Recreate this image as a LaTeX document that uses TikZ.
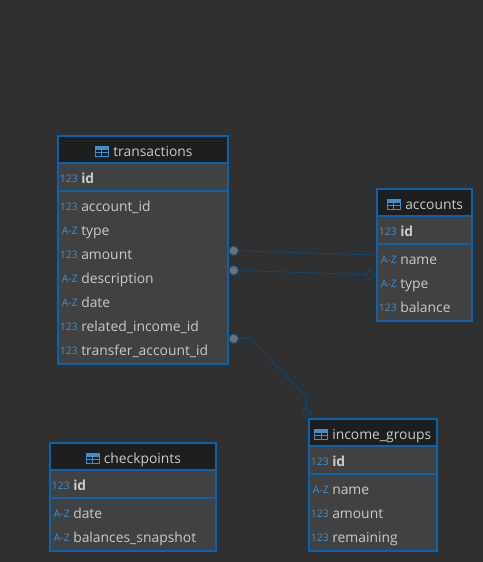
\documentclass[tikz,border=0pt]{standalone}
\usepackage{fontspec}
\setmainfont{Open Sans}
\usetikzlibrary{shapes.geometric}
\definecolor{bgc}{HTML}{303030}
\definecolor{panelc}{HTML}{414141}
\definecolor{headc}{HTML}{1E1E1E}
\definecolor{edgec}{HTML}{0A63AC}
\definecolor{txtc}{HTML}{CACACA}
\definecolor{iconc}{HTML}{3F8FCE}
\definecolor{linkc}{HTML}{0E4674}
\definecolor{dotc}{HTML}{6B7178}
\def\fsz{\fontsize{10.4pt}{12pt}\selectfont}
\tikzset{
  x=.75pt,y=-.75pt,
  tablebox/.style={draw=edgec,line width=1.6pt,fill=panelc,anchor=north west,inner sep=0pt,outer sep=0pt},
  headbox/.style={fill=headc,anchor=north west,inner sep=0pt,outer sep=0pt},
  rule/.style={draw=edgec,line width=.8pt},
  field/.style={anchor=base west,inner sep=0pt,text=txtc,font=\fsz},
  keyfield/.style={field,font=\fsz\bfseries},
  title/.style={anchor=base west,inner sep=0pt,text=txtc,font=\fsz},
  kind/.style={anchor=base east,inner sep=0pt,text=iconc,font=\fontsize{7.8pt}{8pt}\selectfont},
  dotend/.style={circle,draw=linkc,line width=.8pt,fill=dotc,minimum size=7.4pt,inner sep=0pt},
  diaend/.style={diamond,draw=linkc,line width=.7pt,fill=bgc,minimum size=7.8pt,inner sep=0pt},
  link/.style={draw=linkc,line width=.7pt},
  icon/.style={draw=iconc,line width=.7pt},
}
% table icon at (x,y): centre of the glyph
\newcommand{\tblicon}[2]{%
  \draw[icon] (#1-6.5,#2-4.5) rectangle (#1+6.5,#2+5);
  \fill[iconc] (#1-6.5,#2-4.5) rectangle (#1+6.5,#2-1.5);
  \draw[icon] (#1-6.5,#2+1.8) -- (#1+6.5,#2+1.8);
  \draw[icon] (#1,#2-1.5) -- (#1,#2+5);
}
% \tbl{name}{x}{y}{w}{h}: box, dark header and the rule below the key row
\newcommand{\tbl}[5]{%
  \node[tablebox,minimum width=#4*.75pt,minimum height=#5*.75pt] (#1) at (#2,#3) {};
  \fill[headc] (#2,#3) rectangle (#2+#4,#3+27);
  \draw[rule] (#2,#3+27) -- (#2+#4,#3+27);
  \draw[rule] (#2,#3+55) -- (#2+#4,#3+55);
  \draw[draw=edgec,line width=1.6pt] (#2,#3) rectangle (#2+#4,#3+#5);
}
% \row{node name}{x of text}{baseline y}{kind}{style}{text}
\newcommand{\row}[6]{%
  \node[kind] (#1k) at (#2-3,#3-.5) {#4};
  \node[#5] (#1) at (#2,#3+.5) {#6};
}
\begin{document}
\begin{tikzpicture}
\useasboundingbox (0,0) rectangle (483,562);
\fill[bgc] (0,0) rectangle (483,562);

% transactions
\tbl{tx}{58}{136}{170}{228}
\tblicon{101.5}{151}
\node[title] (txt) at (113,156) {transactions};
\row{txa}{81}{183}{123}{keyfield}{id}
\row{txb}{81}{211}{123}{field}{account\_id}
\row{txc}{81}{235}{A-Z}{field}{type}
\row{txd}{81}{259}{123}{field}{amount}
\row{txe}{81}{283}{A-Z}{field}{description}
\row{txf}{81}{307}{A-Z}{field}{date}
\row{txg}{81}{331}{123}{field}{related\_income\_id}
\row{txh}{81}{355}{123}{field}{transfer\_account\_id}

% accounts
\tbl{acc}{377}{189}{95}{132}
\tblicon{393.5}{204}
\node[title] (acct) at (405,209) {accounts};
\row{acca}{400}{236}{123}{keyfield}{id}
\row{accb}{400}{264}{A-Z}{field}{name}
\row{accc}{400}{288}{A-Z}{field}{type}
\row{accd}{400}{312}{123}{field}{balance}

% income_groups
\tbl{inc}{309}{419}{128}{132}
\tblicon{321}{434}
\node[title] (inct) at (332,439) {income\_groups};
\row{inca}{332}{466}{123}{keyfield}{id}
\row{incb}{332}{494}{A-Z}{field}{name}
\row{incc}{332}{518}{123}{field}{amount}
\row{incd}{332}{542}{123}{field}{remaining}

% checkpoints
\tbl{chk}{50}{443}{166}{108}
\tblicon{92.5}{458}
\node[title] (chkt) at (103.5,463) {checkpoints};
\row{chka}{73}{490}{123}{keyfield}{id}
\row{chkb}{73}{518}{A-Z}{field}{date}
\row{chkc}{73}{542}{A-Z}{field}{balances\_snapshot}

% relationship ends
\node[dotend] (d1) at (233.7,250.7) {};
\node[dotend] (d2) at (233.7,270.3) {};
\node[dotend] (d3) at (233.7,338.7) {};
\node[diaend] (m1) at (370.3,274.7) {};
\node[diaend] (m2) at (306.4,412.8) {};
\coordinate (b1) at (250,338.5);
\coordinate (b2) at (306.4,397);

\draw[link] (d1) -- (acc.west);
\draw[link] (d2) -- (m1);
\draw[link] (d3) -- (b1) -- (b2) -- (m2);
\end{tikzpicture}
\end{document}
